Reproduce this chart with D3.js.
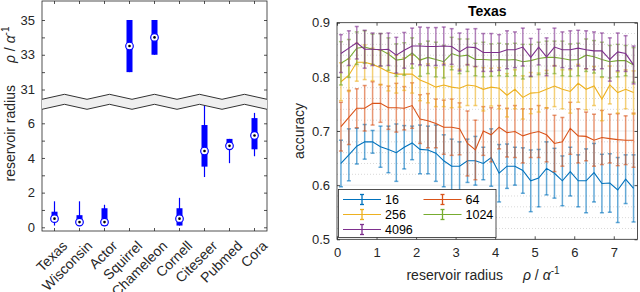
<!DOCTYPE html>
<html>
<head>
<meta charset="utf-8">
<script src="https://cdn.jsdelivr.net/npm/d3@7"></script>
<style>
  body { margin: 0; background: #fff; }
  svg { font-family: "Liberation Sans", Arial, sans-serif; }
</style>
</head>
<body>
<svg id="chart" width="640" height="292"></svg>
<script>
// left panel: fitted reservoir radius per dataset (box plot stats)
const datasets = ['Texas', 'Wisconsin', 'Actor', 'Squirrel', 'Chameleon', 'Cornell', 'Citeseer', 'Pubmed', 'Cora'];
const whiskerLo = [0.1, 0.1, 0.1, 32, 33, 0.1, 2.9, 3.7, 4.1];
const boxLo = [0.3, 0.2, 0.1, 32, 33, 0.1, 3.5, 4.6, 4.5];
const medians = [0.5, 0.3, 0.3, 33.5, 34, 0.5, 4.4, 4.7, 5.3];
const boxHi = [0.9, 0.7, 1.1, 35, 35, 1.1, 5.9, 5.1, 6.3];
const whiskerHi = [1.5, 1.5, 1.3, 35, 35, 1.7, 7.2, 5.1, 6.6];

const upperTicks = [31, 32, 33, 34, 35];
const lowerTicks = [0, 1, 2, 3, 4, 5, 6];

// right panel: accuracy vs reservoir radius on Texas
const radius = [0.1, 0.3, 0.5, 0.7, 0.9, 1.1, 1.3, 1.5, 1.7, 1.9, 2.1, 2.3, 2.5, 2.7, 2.9, 3.1, 3.3, 3.5, 3.7,
  3.9, 4.1, 4.3, 4.5, 4.7, 4.9, 5.1, 5.3, 5.5, 5.7, 5.9, 6.1, 6.3, 6.5, 6.7, 6.9, 7.1, 7.3, 7.5];
const sizes = ['16', '64', '256', '1024', '4096'];
const colors = ['#0072BD', '#D95319', '#EDB120', '#77AC30', '#7E2F8E'];

const acc16 = [0.640, 0.656, 0.672, 0.680, 0.680, 0.671, 0.666, 0.660, 0.670, 0.678, 0.666, 0.665, 0.659, 0.645, 0.635,
  0.635, 0.645, 0.645, 0.640, 0.651, 0.622, 0.635, 0.635, 0.627, 0.608, 0.613, 0.631, 0.622, 0.608, 0.625, 0.608,
  0.608, 0.623, 0.603, 0.604, 0.591, 0.611, 0.594];
const err16 = [0.043, 0.048, 0.033, 0.032, 0.021, 0.038, 0.043, 0.053, 0.040, 0.031, 0.045, 0.044, 0.052, 0.048, 0.050,
  0.045, 0.040, 0.045, 0.030, 0.053, 0.053, 0.041, 0.035, 0.042, 0.057, 0.053, 0.049, 0.046, 0.046, 0.045, 0.048,
  0.059, 0.054, 0.054, 0.054, 0.060, 0.045, 0.062];
const acc64 = [0.708, 0.725, 0.742, 0.742, 0.751, 0.751, 0.743, 0.743, 0.742, 0.747, 0.722, 0.719, 0.714, 0.707, 0.707,
  0.704, 0.677, 0.665, 0.700, 0.693, 0.707, 0.697, 0.699, 0.691, 0.696, 0.699, 0.693, 0.677, 0.680, 0.705, 0.691,
  0.690, 0.683, 0.688, 0.686, 0.684, 0.683, 0.683];
const err64 = [0.045, 0.050, 0.036, 0.042, 0.040, 0.035, 0.040, 0.045, 0.040, 0.042, 0.045, 0.050, 0.045, 0.050, 0.052,
  0.048, 0.060, 0.055, 0.045, 0.050, 0.040, 0.045, 0.048, 0.050, 0.045, 0.048, 0.050, 0.052, 0.045, 0.048, 0.050,
  0.045, 0.048, 0.050, 0.045, 0.048, 0.045, 0.050];
const acc256 = [0.791, 0.803, 0.827, 0.827, 0.823, 0.817, 0.809, 0.805, 0.805, 0.805, 0.794, 0.788, 0.781, 0.785, 0.781,
  0.779, 0.785, 0.783, 0.777, 0.781, 0.779, 0.766, 0.777, 0.762, 0.770, 0.771, 0.777, 0.783, 0.777, 0.773, 0.788,
  0.777, 0.783, 0.759, 0.785, 0.771, 0.777, 0.771];
const err256 = [0.035, 0.030, 0.035, 0.032, 0.030, 0.032, 0.035, 0.035, 0.030, 0.035, 0.038, 0.036, 0.036, 0.040, 0.038,
  0.035, 0.038, 0.036, 0.040, 0.035, 0.038, 0.040, 0.036, 0.040, 0.038, 0.036, 0.035, 0.038, 0.036, 0.040, 0.035,
  0.038, 0.036, 0.040, 0.035, 0.038, 0.036, 0.040];
const acc1024 = [0.825, 0.834, 0.853, 0.855, 0.851, 0.850, 0.842, 0.831, 0.833, 0.844, 0.831, 0.836, 0.832, 0.828, 0.843,
  0.838, 0.840, 0.832, 0.832, 0.831, 0.832, 0.831, 0.832, 0.828, 0.830, 0.834, 0.836, 0.836, 0.834, 0.831, 0.832,
  0.840, 0.837, 0.832, 0.828, 0.830, 0.830, 0.822];
const err1024 = [0.040, 0.035, 0.030, 0.030, 0.028, 0.030, 0.030, 0.030, 0.030, 0.028, 0.030, 0.030, 0.032, 0.030, 0.030,
  0.032, 0.030, 0.030, 0.032, 0.030, 0.030, 0.030, 0.030, 0.032, 0.030, 0.030, 0.030, 0.030, 0.032, 0.030, 0.030,
  0.030, 0.030, 0.032, 0.030, 0.030, 0.028, 0.032];
const acc4096 = [0.843, 0.853, 0.863, 0.851, 0.851, 0.850, 0.851, 0.840, 0.849, 0.857, 0.857, 0.856, 0.856, 0.857, 0.856,
  0.846, 0.855, 0.854, 0.845, 0.845, 0.845, 0.850, 0.850, 0.855, 0.836, 0.855, 0.837, 0.855, 0.850, 0.850, 0.853,
  0.850, 0.848, 0.848, 0.832, 0.846, 0.843, 0.822];
const err4096 = [0.035, 0.032, 0.030, 0.035, 0.030, 0.030, 0.030, 0.033, 0.033, 0.033, 0.035, 0.035, 0.035, 0.035, 0.033,
  0.035, 0.033, 0.035, 0.035, 0.035, 0.033, 0.035, 0.033, 0.035, 0.035, 0.033, 0.035, 0.035, 0.033, 0.035, 0.033,
  0.035, 0.035, 0.033, 0.040, 0.035, 0.033, 0.035];

const xTicks = [0, 1, 2, 3, 4, 5, 6, 7];
const yTicks = [0.5, 0.6, 0.7, 0.8, 0.9];

const means = [acc16, acc64, acc256, acc1024, acc4096];
const errs = [err16, err64, err256, err1024, err4096];

const svg = d3.select('#chart');
const axisColor = '#262626';
const boxBlue = '#0000ff';

/**
 * Left panel
 */
const L = { left: 42, right: 267, top: 1, bottom: 231 };
const xCat = d3.scaleBand().domain(datasets).range([L.left, L.right]);
const cx = d => xCat(d) + xCat.bandwidth() / 2;
const yUp = d3.scaleLinear().domain([31, 35]).range([89.5, 20]);
const yLo = d3.scaleLinear().domain([0, 6]).range([227.3, 123.3]);
const yAny = v => v > 20 ? yUp(v) : yLo(v);

const left = svg.append('g');

left.append('rect')
  .attr('x', L.left).attr('y', L.top)
  .attr('width', L.right - L.left).attr('height', L.bottom - L.top)
  .attr('fill', '#fff').attr('stroke', axisColor).attr('stroke-width', 0.8);

function styleAxis(g, fontSize) {
  g.select('.domain').remove();
  g.selectAll('.tick line').attr('stroke', axisColor).attr('stroke-width', 0.8);
  g.selectAll('.tick text').attr('fill', axisColor).style('font-size', fontSize + 'px')
    .style('font-family', '"Liberation Sans", Arial, sans-serif');
}

const oddLabel = d => d % 2 ? d : '';
const evenLabel = d => d % 2 ? '' : d;

left.append('g').attr('transform', `translate(${L.left},0)`)
  .call(d3.axisLeft(yUp).tickValues(upperTicks).tickFormat(oddLabel).tickSizeInner(-3).tickSizeOuter(0).tickPadding(7))
  .call(g => styleAxis(g, 13));
left.append('g').attr('transform', `translate(${L.left},0)`)
  .call(d3.axisLeft(yLo).tickValues(lowerTicks).tickFormat(evenLabel).tickSizeInner(-3).tickSizeOuter(0).tickPadding(7))
  .call(g => styleAxis(g, 13));
left.append('g').attr('transform', `translate(${L.right},0)`)
  .call(d3.axisRight(yUp).tickValues(upperTicks).tickFormat('').tickSizeInner(-3).tickSizeOuter(0))
  .call(g => styleAxis(g, 13));
left.append('g').attr('transform', `translate(${L.right},0)`)
  .call(d3.axisRight(yLo).tickValues(lowerTicks).tickFormat('').tickSizeInner(-3).tickSizeOuter(0))
  .call(g => styleAxis(g, 13));
left.append('g').attr('transform', `translate(0,${L.top})`)
  .call(d3.axisTop(xCat).tickFormat('').tickSizeInner(-3).tickSizeOuter(0))
  .call(g => styleAxis(g, 13));

const xAxisL = left.append('g').attr('transform', `translate(0,${L.bottom})`)
  .call(d3.axisBottom(xCat).tickSizeInner(-3).tickSizeOuter(0).tickPadding(6))
  .call(g => styleAxis(g, 14));
xAxisL.selectAll('.tick text')
  .attr('text-anchor', 'end')
  .attr('dy', '0.35em')
  .attr('transform', 'translate(6,8) rotate(-45)');

// box plots
const boxes = left.append('g');
datasets.forEach((d, i) => {
  const x = cx(d);
  boxes.append('line')
    .attr('x1', x).attr('x2', x)
    .attr('y1', yAny(whiskerLo[i])).attr('y2', yAny(whiskerHi[i]))
    .attr('stroke', boxBlue).attr('stroke-width', 1.2);
  boxes.append('rect')
    .attr('x', x - 3).attr('width', 6)
    .attr('y', yAny(boxHi[i])).attr('height', yAny(boxLo[i]) - yAny(boxHi[i]))
    .attr('fill', boxBlue);
  boxes.append('circle')
    .attr('cx', x).attr('cy', yAny(medians[i])).attr('r', 3.8)
    .attr('fill', '#fff').attr('stroke', boxBlue).attr('stroke-width', 1.2);
  boxes.append('circle')
    .attr('cx', x).attr('cy', yAny(medians[i])).attr('r', 1.3)
    .attr('fill', '#000');
});

// axis break band
const period = 45;
const zig = [];
for (let x = L.left, k = 0; x <= L.right + 0.1; x += period / 2, k++) {
  zig.push([x, k % 2 ? 0 : 5]);
}
const breakTop = 94.3;
const breakGap = 10;
const zigLine = d3.line().x(p => p[0]);
const bandArea = d3.area().x(p => p[0]).y0(p => breakTop + p[1]).y1(p => breakTop + breakGap + p[1]);
left.append('path').datum(zig).attr('d', bandArea).attr('fill', '#efefef');
left.append('path').datum(zig).attr('d', zigLine.y(p => breakTop + p[1]))
  .attr('fill', 'none').attr('stroke', '#333').attr('stroke-width', 1);
left.append('path').datum(zig).attr('d', zigLine.y(p => breakTop + breakGap + p[1]))
  .attr('fill', 'none').attr('stroke', '#333').attr('stroke-width', 1);

// y label
const ylab = left.append('text')
  .attr('transform', 'translate(15,104) rotate(-90)')
  .attr('text-anchor', 'middle')
  .attr('fill', axisColor)
  .style('font-size', '14px');
ylab.append('tspan').text('reservoir radius');
ylab.append('tspan').attr('dx', 22).style('font-style', 'italic').text('ρ');
ylab.append('tspan').text(' / ');
ylab.append('tspan').style('font-style', 'italic').text('α');
ylab.append('tspan').attr('dy', -6).style('font-size', '10px').text('-1');

/**
 * Right panel
 */
const R = { left: 337, right: 637.5, top: 22.7, bottom: 239.3 };
const x = d3.scaleLinear().domain([0, 7.6]).range([R.left, R.right]);
const y = d3.scaleLinear().domain([0.5, 0.9]).range([R.bottom, R.top]);

const right = svg.append('g');

// grid: dotted minor lines every 0.02, solid at the major ticks
const minorTicks = y.ticks(20).filter(t => Math.abs(t * 10 - Math.round(t * 10)) > 1e-6);
right.append('g').selectAll('line').data(minorTicks).join('line')
  .attr('x1', R.left).attr('x2', R.right)
  .attr('y1', d => y(d)).attr('y2', d => y(d))
  .attr('stroke', '#cfcfcf').attr('stroke-width', 0.8).attr('stroke-dasharray', '1,2');
right.append('g').selectAll('line').data([0.6, 0.7, 0.8]).join('line')
  .attr('x1', R.left).attr('x2', R.right)
  .attr('y1', d => y(d)).attr('y2', d => y(d))
  .attr('stroke', '#e6e6e6').attr('stroke-width', 0.8);

// series
const line = d3.line().x((d, i) => x(radius[i])).y(d => y(d));
means.forEach((m, s) => {
  const g = right.append('g');
  const e = errs[s];
  const bars = g.append('g').attr('stroke', colors[s]).attr('stroke-opacity', 0.6).attr('stroke-width', 1.5);
  m.forEach((v, i) => {
    const px = x(radius[i]);
    bars.append('line').attr('x1', px).attr('x2', px).attr('y1', y(v - e[i])).attr('y2', y(v + e[i]));
    bars.append('line').attr('x1', px - 2).attr('x2', px + 2).attr('y1', y(v - e[i])).attr('y2', y(v - e[i]));
    bars.append('line').attr('x1', px - 2).attr('x2', px + 2).attr('y1', y(v + e[i])).attr('y2', y(v + e[i]));
  });
  g.append('path').datum(m).attr('d', line)
    .attr('fill', 'none').attr('stroke', colors[s]).attr('stroke-width', 1.1);
});

right.append('rect')
  .attr('x', R.left).attr('y', R.top)
  .attr('width', R.right - R.left).attr('height', R.bottom - R.top)
  .attr('fill', 'none').attr('stroke', axisColor).attr('stroke-width', 0.8);

right.append('g').attr('transform', `translate(0,${R.bottom})`)
  .call(d3.axisBottom(x).tickValues(xTicks).tickFormat(d3.format('d')).tickSizeInner(-3).tickSizeOuter(0).tickPadding(8))
  .call(g => styleAxis(g, 13));
right.append('g').attr('transform', `translate(0,${R.top})`)
  .call(d3.axisTop(x).tickValues(xTicks).tickFormat('').tickSizeInner(-3).tickSizeOuter(0))
  .call(g => styleAxis(g, 13));
right.append('g').attr('transform', `translate(${R.left},0)`)
  .call(d3.axisLeft(y).tickValues(yTicks).tickFormat(d3.format('.1f')).tickSizeInner(-3).tickSizeOuter(0).tickPadding(7))
  .call(g => styleAxis(g, 13));
right.append('g').attr('transform', `translate(${R.right},0)`)
  .call(d3.axisRight(y).tickValues(yTicks).tickFormat('').tickSizeInner(-3).tickSizeOuter(0))
  .call(g => styleAxis(g, 13));

right.append('text')
  .attr('x', (R.left + R.right) / 2).attr('y', 16)
  .attr('text-anchor', 'middle').attr('fill', '#000')
  .style('font-size', '14px').style('font-weight', 'bold')
  .text('Texas');

right.append('text')
  .attr('transform', `translate(304,${(R.top + R.bottom) / 2}) rotate(-90)`)
  .attr('text-anchor', 'middle').attr('fill', axisColor)
  .style('font-size', '14px')
  .text('accuracy');

const xlab = right.append('text')
  .attr('x', 483).attr('y', 280)
  .attr('text-anchor', 'middle').attr('fill', axisColor)
  .style('font-size', '14px');
xlab.append('tspan').text('reservoir radius');
xlab.append('tspan').attr('dx', 20).style('font-style', 'italic').text('ρ');
xlab.append('tspan').text(' / ');
xlab.append('tspan').style('font-style', 'italic').text('α');
xlab.append('tspan').attr('dy', -6).style('font-size', '10px').text('-1');

// legend
const legend = right.append('g');
legend.append('rect')
  .attr('x', 338.5).attr('y', 189.5).attr('width', 157.5).attr('height', 48)
  .attr('fill', '#fff').attr('stroke', axisColor).attr('stroke-width', 0.8);
sizes.forEach((label, s) => {
  const col = s % 2, row = Math.floor(s / 2);
  const lx = 343 + col * 80.5, ly = 199.5 + row * 15;
  const g = legend.append('g').attr('stroke', colors[s]);
  g.append('line').attr('x1', lx).attr('x2', lx + 38).attr('y1', ly).attr('y2', ly).attr('stroke-width', 1.1);
  const mx = lx + 19;
  g.append('line').attr('x1', mx).attr('x2', mx).attr('y1', ly - 5).attr('y2', ly + 5).attr('stroke-width', 1.3);
  g.append('line').attr('x1', mx - 2).attr('x2', mx + 2).attr('y1', ly - 5).attr('y2', ly - 5).attr('stroke-width', 1.3);
  g.append('line').attr('x1', mx - 2).attr('x2', mx + 2).attr('y1', ly + 5).attr('y2', ly + 5).attr('stroke-width', 1.3);
  legend.append('text')
    .attr('x', lx + 42).attr('y', ly).attr('dy', '0.35em')
    .attr('fill', '#000').style('font-size', '12.5px')
    .text(label);
});
</script>
</body>
</html>
